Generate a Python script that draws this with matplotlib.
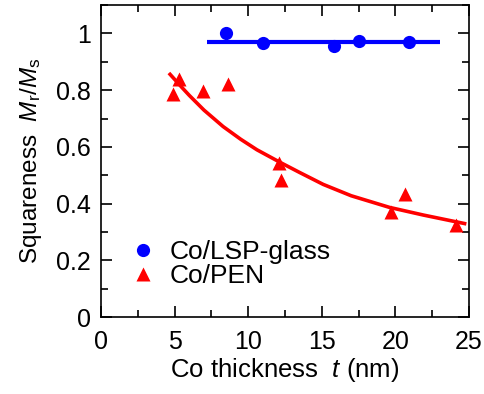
import matplotlib
matplotlib.use("Agg")
import matplotlib.pyplot as plt
from matplotlib.ticker import MultipleLocator

plt.rcParams['font.family'] = ['Liberation Sans', 'DejaVu Sans']
plt.rcParams['mathtext.fontset'] = 'custom'
plt.rcParams['mathtext.rm'] = 'Liberation Sans'
plt.rcParams['mathtext.it'] = 'Liberation Sans:italic'

# Data
glass_t = [8.5, 11.0, 15.85, 17.5, 20.95]
glass_s = [1.0, 0.965, 0.957, 0.973, 0.971]
glass_fit_t = [7.2, 23.0]
glass_fit_s = [0.970, 0.970]

pen_t = [4.9, 5.3, 6.95, 8.65, 12.1, 12.2, 19.7, 20.65, 24.1]
pen_s = [0.787, 0.84, 0.797, 0.822, 0.542, 0.483, 0.371, 0.433, 0.325]
pen_fit_t = [4.7, 5.5, 6.0, 7.0, 8.3, 9.5, 10.6, 12.2, 13.5, 15.1, 17.0, 19.6, 21.9, 24.7]
pen_fit_s = [0.856, 0.810, 0.782, 0.730, 0.672, 0.627, 0.590, 0.545, 0.510, 0.468, 0.428, 0.387, 0.360, 0.330]

fig = plt.figure(figsize=(4.85, 3.94), dpi=100)
ax = fig.add_axes([0.208, 0.195, 0.759, 0.792])

ax.plot(glass_fit_t, glass_fit_s, color='#0000ff', lw=3.0, solid_capstyle='butt', zorder=2)
ax.plot(pen_fit_t, pen_fit_s, color='#ff0000', lw=2.6, zorder=2)
ax.plot(glass_t, glass_s, 'o', color='#0000ff', ms=9.5, mec='none', label='Co/LSP-glass', zorder=3)
ax.plot(pen_t, pen_s, '^', color='#ff0000', ms=10.5, mec='none', label='Co/PEN', zorder=3)

ax.set_xlim(0, 25)
ax.set_ylim(0, 1.1)
ax.xaxis.set_major_locator(MultipleLocator(5))
ax.xaxis.set_minor_locator(MultipleLocator(2.5))
ax.yaxis.set_minor_locator(MultipleLocator(0.1))
ax.set_yticks([0, 0.2, 0.4, 0.6, 0.8, 1.0])
ax.set_yticklabels(['0', '0.2', '0.4', '0.6', '0.8', '1'])
ax.tick_params(which='both', direction='in', top=True, right=True, labelsize=18, width=1.2)
ax.tick_params(axis='y', pad=7)
ax.tick_params(axis='x', pad=9)
ax.tick_params(which='major', length=8)
ax.tick_params(which='minor', length=5)
for s in ax.spines.values():
    s.set_linewidth(1.2)

ax.set_xlabel(r'Co thickness  $t$ (nm)', fontsize=18.5, labelpad=2)
ax.set_ylabel(r'Squareness  $M_\mathrm{r}/M_\mathrm{s}$', fontsize=17.5, labelpad=9)

ax.legend(loc='lower left', bbox_to_anchor=(0.05, 0.06), frameon=False, fontsize=19,
          handlelength=1.0, handletextpad=0.5, labelspacing=0.0, borderaxespad=0)

fig.savefig('out.png', dpi=100)
